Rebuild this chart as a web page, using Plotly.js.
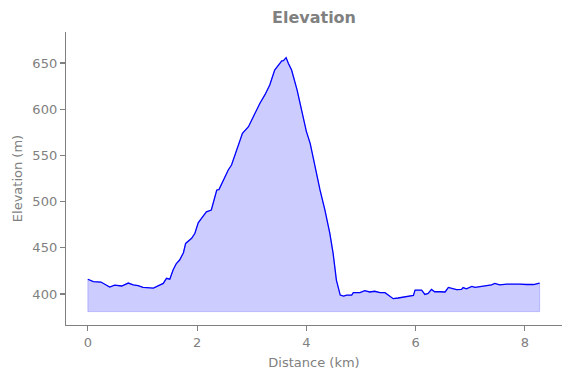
<!DOCTYPE html>
<html>
<head>
<meta charset="utf-8">
<script src="https://cdn.plot.ly/plotly-3.0.1.min.js"></script>
<style>html,body{margin:0;padding:0;background:#fff;}#chart{width:571px;height:378px;}</style>
</head>
<body>
<div id="chart"></div>
<script>
const distanceKm = [0.00,0.10,0.24,0.31,0.40,0.49,0.62,0.74,0.83,0.92,1.01,1.20,1.29,1.38,1.44,1.50,1.56,1.62,1.68,1.75,1.79,1.90,1.96,2.02,2.08,2.17,2.26,2.36,2.40,2.48,2.57,2.63,2.72,2.83,2.94,3.03,3.15,3.24,3.33,3.42,3.55,3.58,3.63,3.67,3.73,3.83,3.91,4.00,4.07,4.13,4.19,4.25,4.34,4.43,4.49,4.55,4.62,4.68,4.74,4.83,4.86,4.98,5.07,5.16,5.25,5.35,5.44,5.50,5.59,5.68,5.78,5.87,5.96,5.99,6.11,6.17,6.23,6.29,6.35,6.45,6.54,6.60,6.66,6.75,6.84,6.87,6.93,7.03,7.09,7.18,7.30,7.39,7.45,7.54,7.67,7.79,7.91,8.03,8.16,8.27];
const elevationM = [416,413.5,413,410.5,407.6,409.7,408.7,411.9,410,409,407.2,406.5,408.7,411.5,417,416,426,433,436.8,444.7,454.8,460.3,465.7,477,481.9,489,490.9,512.6,513,523.4,534.2,539.6,554,573.9,581,591.9,606.4,615.4,626.2,642.4,652.2,652.5,655.8,649.7,642.4,620.8,599.1,576,563,545,530.6,512.6,490.9,465.7,444,415,398.9,397.8,398.9,398.9,401.5,401.5,403.6,402.2,403,401.5,401.5,398.9,395,395.7,397,398,398.5,404.3,404.3,399.6,400.7,405,402.5,402.5,402.2,407.2,406,404.7,405,407,405.7,408.3,407.2,408,409,410,411.5,410,410.7,411,410.7,410.3,410.3,411.9];
const fillBase = 381;
const xTicks = [0,2,4,6,8];
const yTicks = [400,450,500,550,600,650];

const n = distanceKm.length;
const polyX = distanceKm.concat([distanceKm[n-1], distanceKm[0], distanceKm[0]]);
const polyY = elevationM.concat([fillBase, fillBase, elevationM[0]]);

const gray = '#808080';
const font = {family: 'DejaVu Sans, sans-serif', size: 13, color: gray};

const traces = [
  {x: polyX, y: polyY, type: 'scatter', mode: 'lines', fill: 'toself',
   fillcolor: 'rgba(0,0,255,0.2)', line: {color: 'rgba(0,0,255,0.2)', width: 1}, hoverinfo: 'skip'},
  {x: distanceKm, y: elevationM, type: 'scatter', mode: 'lines',
   line: {color: '#0000ff', width: 1.3}}
];

const layout = {
  width: 571, height: 378,
  margin: {l: 66, r: 9, t: 32, b: 53},
  paper_bgcolor: '#fff', plot_bgcolor: '#fff',
  showlegend: false,
  font: font,
  title: {text: '<b>Elevation</b>', x: 0.5, xref: 'paper', y: 1, yref: 'container', yanchor: 'top', pad: {t: 12},
          font: {family: 'DejaVu Sans, sans-serif', size: 16, color: gray}},
  xaxis: {range: [-0.40, 8.68], tickvals: xTicks, ticktext: xTicks.map(String),
          showgrid: false, zeroline: false, showline: true, linecolor: gray, linewidth: 1.2,
          ticks: 'outside', ticklen: 5, tickcolor: gray, tickwidth: 1.2, tickfont: font,
          title: {text: 'Distance (km)', font: font, standoff: 9}},
  yaxis: {range: [366.5, 683.5], tickvals: yTicks, ticktext: yTicks.map(String),
          showgrid: false, zeroline: false, showline: true, linecolor: gray, linewidth: 1.2,
          ticks: 'outside', ticklen: 5, tickcolor: gray, tickwidth: 1.2, tickfont: font,
          title: {text: 'Elevation (m)', font: font, standoff: 6}}
};

Plotly.newPlot('chart', traces, layout, {staticPlot: true, displayModeBar: false});
</script>
</body>
</html>
